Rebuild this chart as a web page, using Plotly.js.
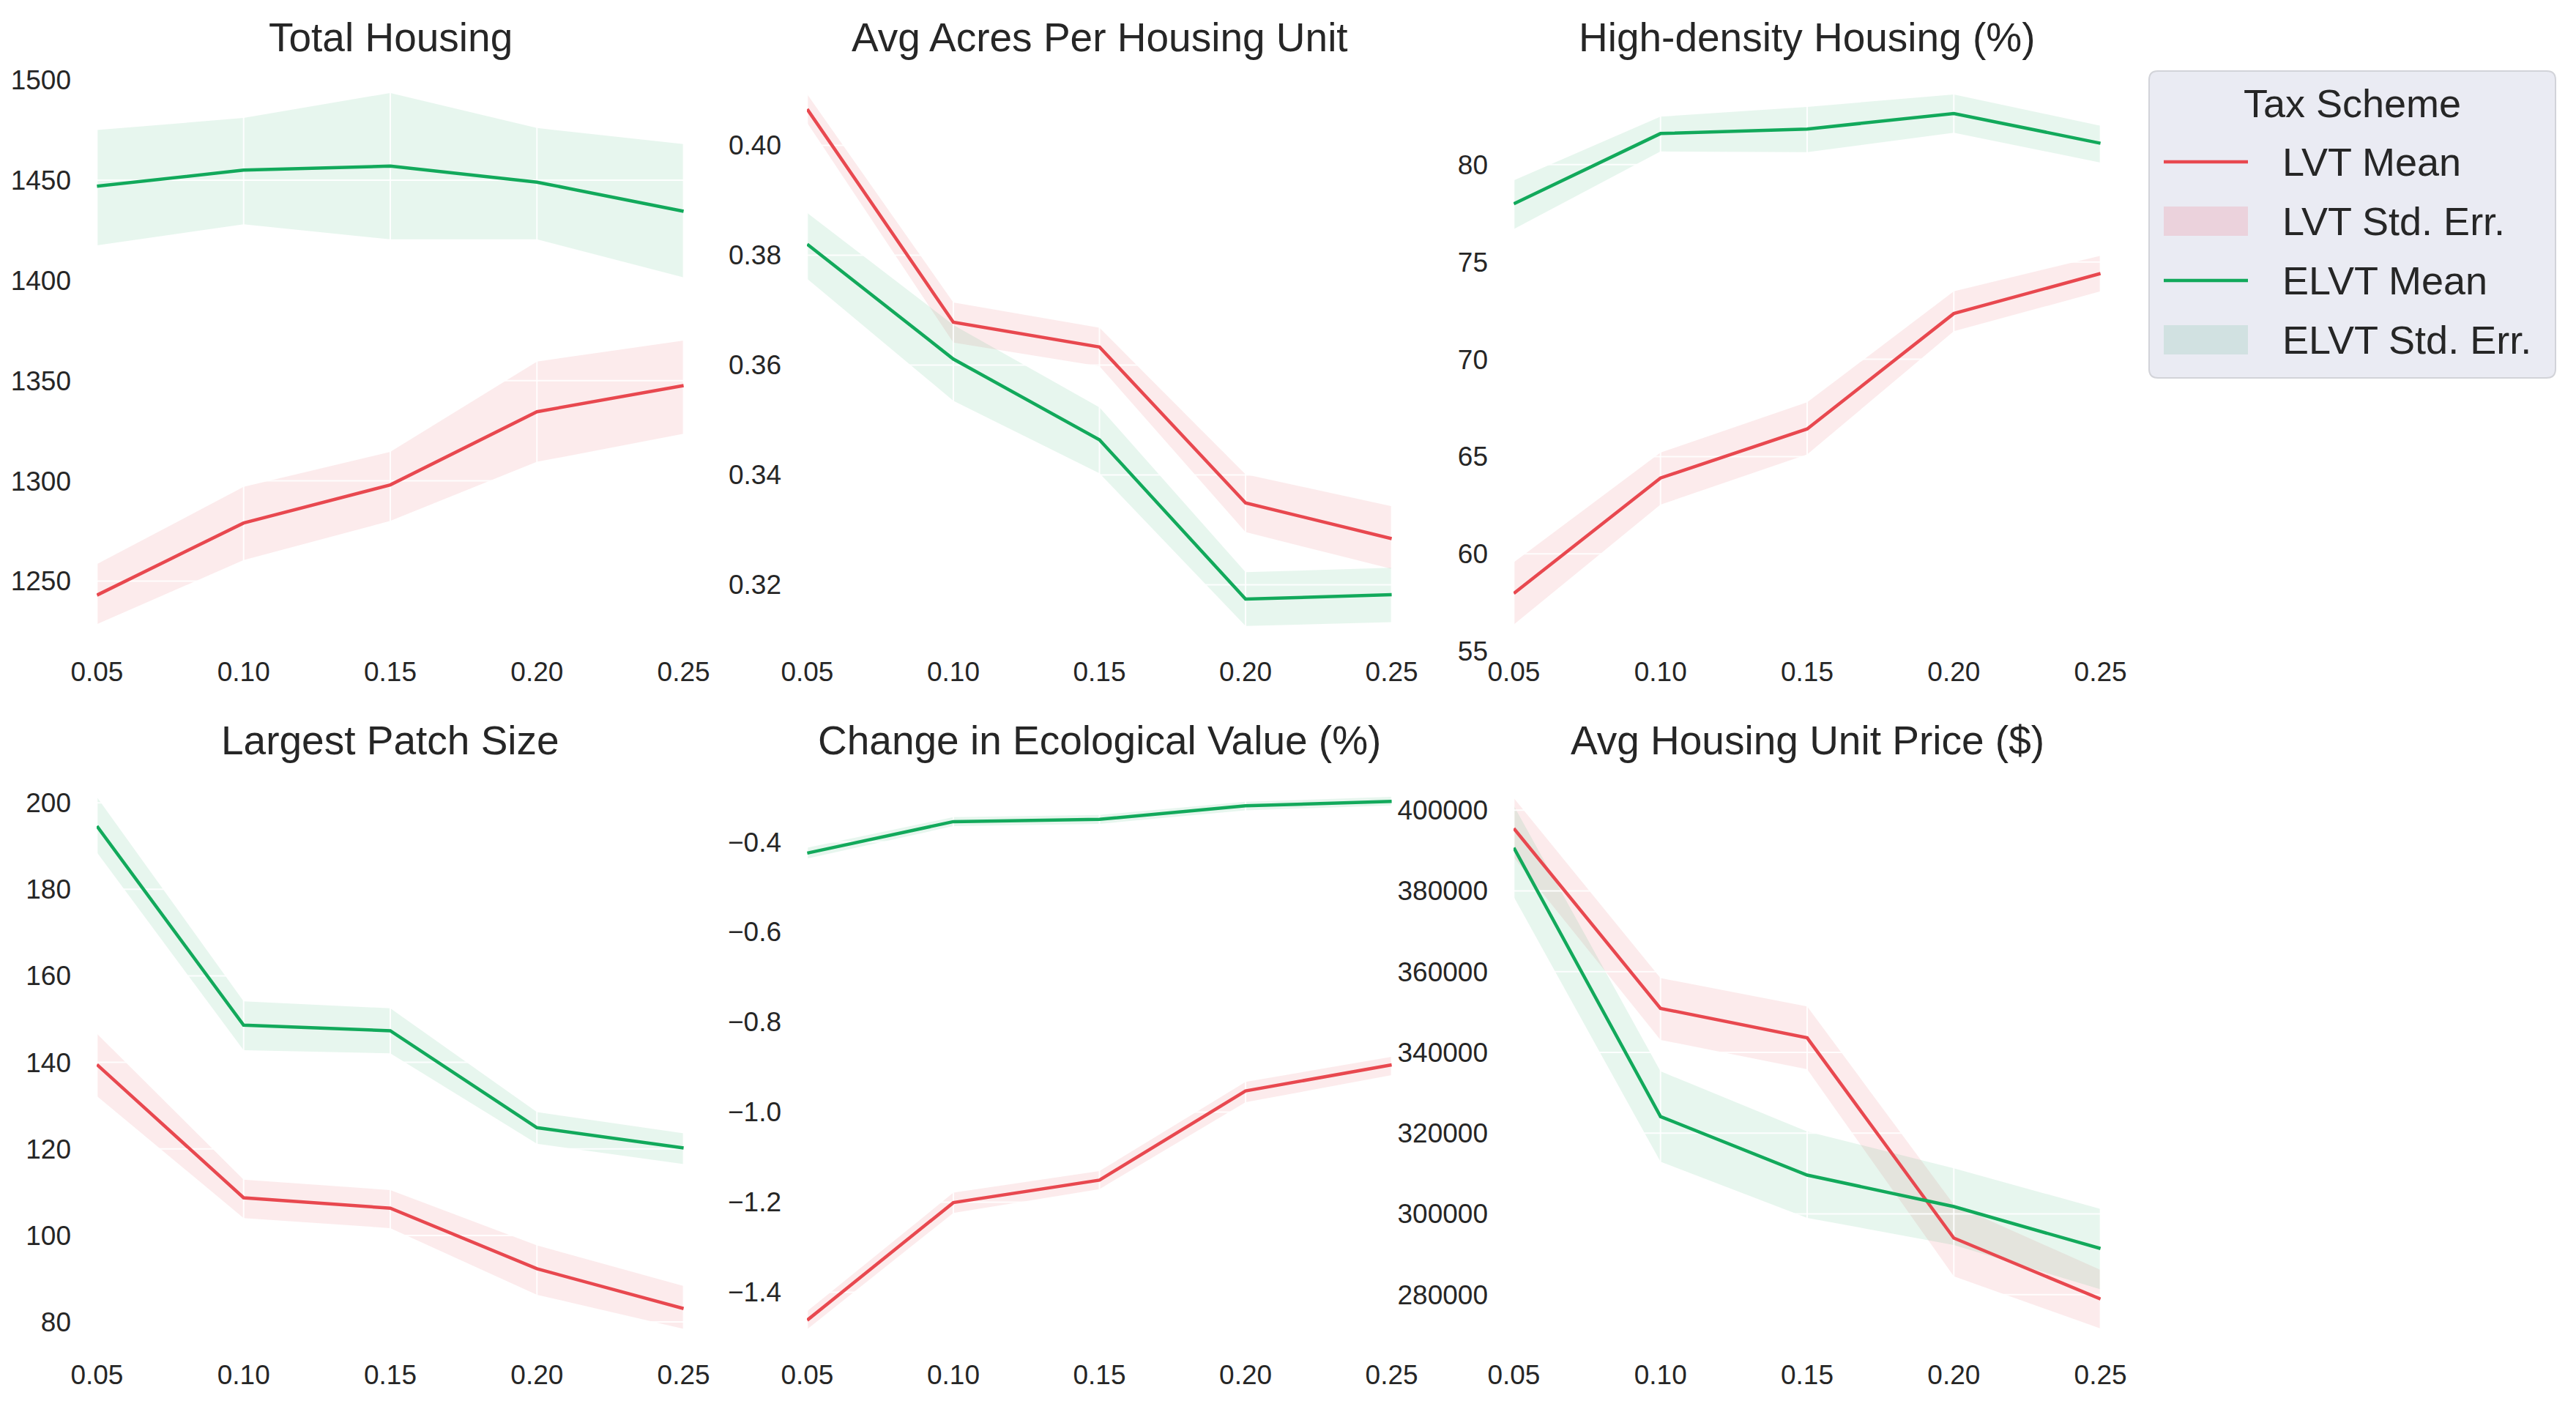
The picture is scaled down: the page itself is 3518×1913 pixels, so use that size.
<!DOCTYPE html>
<html>
<head>
<meta charset="utf-8">
<script src="https://cdn.plot.ly/plotly-3.0.1.min.js"></script>
<style>
html,body{margin:0;padding:0;background:#ffffff;}
#chart{width:3518px;height:1913px;}
</style>
</head>
<body>
<div id="chart"></div>
<script>
// ---------------- DATA ----------------
const xVals = [0.05, 0.10, 0.15, 0.20, 0.25];

const panelTitles = ["Total Housing", "Avg Acres Per Housing Unit", "High-density Housing (%)",
                     "Largest Patch Size", "Change in Ecological Value (%)", "Avg Housing Unit Price ($)"];

const legendTitle = "Tax Scheme";
const seriesNames = ["LVT Mean", "LVT Std. Err.", "ELVT Mean", "ELVT Std. Err."];

// Total Housing
const thLvtMean  = [1243, 1279, 1298, 1334.5, 1347.5];
const thLvtLo    = [1228.5, 1260.5, 1280, 1309.5, 1323.5];
const thLvtHi    = [1258.5, 1297, 1314.5, 1359.5, 1370];
const thElvtMean = [1447, 1455, 1457, 1449, 1434.5];
const thElvtLo   = [1417.5, 1428, 1420.5, 1420.5, 1401.5];
const thElvtHi   = [1475, 1481, 1493.5, 1476, 1468];
const thTicks    = [1250, 1300, 1350, 1400, 1450, 1500];

// Avg Acres Per Housing Unit
const aaLvtMean  = [0.4066, 0.3678, 0.3633, 0.3349, 0.3284];
const aaLvtLo    = [0.4041, 0.3641, 0.3598, 0.3296, 0.3229];
const aaLvtHi    = [0.4093, 0.3714, 0.3668, 0.3401, 0.3343];
const aaElvtMean = [0.3820, 0.3611, 0.3464, 0.3174, 0.3182];
const aaElvtLo   = [0.3757, 0.3535, 0.3403, 0.3125, 0.3132];
const aaElvtHi   = [0.3877, 0.3673, 0.3523, 0.3223, 0.3231];
const aaTicks    = [0.32, 0.34, 0.36, 0.38, 0.40];

// High-density Housing (%)
const hdLvtMean  = [57.97, 63.90, 66.42, 72.35, 74.41];
const hdLvtLo    = [56.37, 62.53, 65.11, 71.44, 73.49];
const hdLvtHi    = [59.57, 65.21, 67.79, 73.49, 75.32];
const hdElvtMean = [77.99, 81.60, 81.83, 82.63, 81.10];
const hdElvtLo   = [76.69, 80.68, 80.64, 81.64, 80.11];
const hdElvtHi   = [79.20, 82.47, 82.97, 83.61, 82.00];
const hdTicks    = [55, 60, 65, 70, 75, 80];

// Largest Patch Size
const lpLvtMean  = [139.5, 108.7, 106.3, 92.3, 83.1];
const lpLvtLo    = [132.2, 104.0, 101.7, 86.3, 78.4];
const lpLvtHi    = [146.6, 112.9, 110.5, 97.7, 88.3];
const lpElvtMean = [194.6, 148.6, 147.3, 124.9, 120.2];
const lpElvtLo   = [188.5, 142.8, 142.1, 121.2, 116.5];
const lpElvtHi   = [201.3, 154.1, 152.5, 128.5, 123.6];
const lpTicks    = [80, 100, 120, 140, 160, 180, 200];

// Change in Ecological Value (%)
const evLvtMean  = [-1.462, -1.201, -1.151, -0.953, -0.895];
const evLvtLo    = [-1.482, -1.224, -1.171, -0.978, -0.918];
const evLvtHi    = [-1.442, -1.179, -1.131, -0.933, -0.877];
const evElvtMean = [-0.425, -0.355, -0.350, -0.320, -0.310];
const evElvtLo   = [-0.437, -0.365, -0.360, -0.330, -0.319];
const evElvtHi   = [-0.413, -0.345, -0.340, -0.311, -0.300];
const evTicks    = [-1.4, -1.2, -1.0, -0.8, -0.6, -0.4];

// Avg Housing Unit Price ($)
const hpLvtMean  = [395500, 350900, 343600, 294000, 278900];
const hpLvtLo    = [388300, 343100, 335800, 284500, 271600];
const hpLvtHi    = [403000, 358400, 351400, 302300, 286100];
const hpElvtMean = [390700, 324100, 309600, 301800, 291400];
const hpElvtLo   = [378500, 312900, 299000, 292300, 281300];
const hpElvtHi   = [401100, 335300, 320400, 311300, 301200];
const hpTicks    = [280000, 300000, 320000, 340000, 360000, 380000, 400000];

// ---------------- STYLE ----------------
const W = 3518, H = 1913;
const RED = '#e8484f', GREEN = '#12a95b';
const RED_FILL = 'rgba(232,72,79,0.11)', GREEN_FILL = 'rgba(18,169,91,0.10)';
const RED_PATCH = 'rgba(240,110,130,0.20)', GREEN_PATCH = 'rgba(60,170,120,0.14)';
const FONT = 'Liberation Sans, Arial, sans-serif';
const TXT = '#262626';

const colsPx = [[132, 934], [1102, 1901], [2067, 2869]];
const rowsPx = [[92, 890], [1053, 1850]];

const panels = [
  {mean: [thLvtMean, thElvtMean], lo: [thLvtLo, thElvtLo], hi: [thLvtHi, thElvtHi], ticks: thTicks, range: [1214.75, 1506.25], fmt: 'd'},
  {mean: [aaLvtMean, aaElvtMean], lo: [aaLvtLo, aaElvtLo], hi: [aaLvtHi, aaElvtHi], ticks: aaTicks, range: [0.3078, 0.4142], fmt: '.2f'},
  {mean: [hdLvtMean, hdElvtMean], lo: [hdLvtLo, hdElvtLo], hi: [hdLvtHi, hdElvtHi], ticks: hdTicks, range: [54.97, 85.0], fmt: 'd'},
  {mean: [lpLvtMean, lpElvtMean], lo: [lpLvtLo, lpElvtLo], hi: [lpLvtHi, lpElvtHi], ticks: lpTicks, range: [72.4, 207.3], fmt: 'd'},
  {mean: [evLvtMean, evElvtMean], lo: [evLvtLo, evElvtLo], hi: [evLvtHi, evElvtHi], ticks: evTicks, range: [-1.539, -0.243], fmt: '.1f'},
  {mean: [hpLvtMean, hpElvtMean], lo: [hpLvtLo, hpElvtLo], hi: [hpLvtHi, hpElvtHi], ticks: hpTicks, range: [265063, 409663], fmt: 'd'}
];

const px = v => v / W;            // x pixel -> paper
const py = v => 1 - v / H;        // y pixel (from top) -> paper

const traces = [];
const layout = {
  width: W, height: H,
  margin: {l: 0, r: 0, t: 0, b: 0},
  paper_bgcolor: '#ffffff',
  plot_bgcolor: '#ffffff',
  font: {family: FONT, color: TXT},
  showlegend: false,
  annotations: [],
  shapes: []
};

panels.forEach((p, i) => {
  const col = i % 3, row = Math.floor(i / 3);
  const sfx = i === 0 ? '' : String(i + 1);
  const xa = 'x' + sfx, ya = 'y' + sfx;
  const xr = [0.0499, 0.2501];

  const fills = [RED_FILL, GREEN_FILL];
  const lines = [RED, GREEN];
  // std. err. bands
  for (let s = 0; s < 2; s++) {
    traces.push({
      type: 'scatter', mode: 'lines', xaxis: xa, yaxis: ya,
      x: xVals.concat(xVals.slice().reverse()),
      y: p.hi[s].concat(p.lo[s].slice().reverse()),
      fill: 'toself', fillcolor: fills[s], line: {width: 0, color: fills[s]},
      name: seriesNames[s * 2 + 1], hoverinfo: 'skip'
    });
  }
  // faint white grid drawn over the bands (from tick arrays)
  const gx = [], gy = [];
  xVals.forEach(t => { gx.push(t, t, null); gy.push(p.range[0], p.range[1], null); });
  p.ticks.forEach(t => { gx.push(xr[0], xr[1], null); gy.push(t, t, null); });
  traces.push({type: 'scatter', mode: 'lines', xaxis: xa, yaxis: ya, x: gx, y: gy,
    line: {color: 'rgba(255,255,255,0.9)', width: 2}, hoverinfo: 'skip', connectgaps: false});
  // means
  for (let s = 0; s < 2; s++) {
    traces.push({
      type: 'scatter', mode: 'lines', xaxis: xa, yaxis: ya,
      x: xVals, y: p.mean[s],
      line: {color: lines[s], width: 4.5},
      name: seriesNames[s * 2]
    });
  }

  layout['xaxis' + sfx] = {
    domain: [px(colsPx[col][0]), px(colsPx[col][1])], range: xr, anchor: ya,
    tickvals: xVals, tickformat: '.2f',
    showgrid: false, zeroline: false, showline: false, ticks: '',
    tickfont: {family: FONT, size: 37, color: TXT}, ticklabelstandoff: 2, fixedrange: true
  };
  layout['yaxis' + sfx] = {
    domain: [py(rowsPx[row][1]), py(rowsPx[row][0])], range: p.range, anchor: xa,
    tickvals: p.ticks, tickformat: p.fmt,
    showgrid: false, zeroline: false, showline: false, ticks: '',
    tickfont: {family: FONT, size: 37, color: TXT}, ticklabelstandoff: 34, fixedrange: true
  };
  layout.annotations.push({
    text: panelTitles[i], xref: 'paper', yref: 'paper',
    x: px((colsPx[col][0] + colsPx[col][1]) / 2),
    y: py(row === 0 ? 51 : 1011),
    xanchor: 'center', yanchor: 'middle', showarrow: false,
    font: {family: FONT, size: 55, color: TXT}
  });
});

// ---------------- LEGEND (drawn as layout shapes + text) ----------------
const LB = {l: 2935, r: 3490, t: 97, b: 516, rad: 12};
const rx = LB.rad / W, ry = LB.rad / H;
const L = px(LB.l), R = px(LB.r), T = py(LB.t), B = py(LB.b);
layout.shapes.push({
  type: 'path', xref: 'paper', yref: 'paper',
  path: `M ${L + rx},${T} L ${R - rx},${T} Q ${R},${T} ${R},${T - ry} L ${R},${B + ry} Q ${R},${B} ${R - rx},${B} ` +
        `L ${L + rx},${B} Q ${L},${B} ${L},${B + ry} L ${L},${T - ry} Q ${L},${T} ${L + rx},${T} Z`,
  fillcolor: '#eaebf3', line: {color: '#d2d3d9', width: 2}, layer: 'above'
});
layout.annotations.push({
  text: legendTitle, xref: 'paper', yref: 'paper', x: px((LB.l + LB.r) / 2), y: py(141),
  xanchor: 'center', yanchor: 'middle', showarrow: false, font: {family: FONT, size: 54, color: TXT}
});
const legendRowsPx = [221, 302, 383, 464];
const legendKinds = [
  {kind: 'line', color: RED}, {kind: 'patch', color: RED_PATCH},
  {kind: 'line', color: GREEN}, {kind: 'patch', color: GREEN_PATCH}
];
legendKinds.forEach((k, j) => {
  const yc = legendRowsPx[j];
  if (k.kind === 'line') {
    layout.shapes.push({type: 'line', xref: 'paper', yref: 'paper',
      x0: px(2955), x1: px(3070), y0: py(yc), y1: py(yc),
      line: {color: k.color, width: 4.5}, layer: 'above'});
  } else {
    layout.shapes.push({type: 'rect', xref: 'paper', yref: 'paper',
      x0: px(2955), x1: px(3070), y0: py(yc + 20), y1: py(yc - 20),
      fillcolor: k.color, line: {width: 0}, layer: 'above'});
  }
  layout.annotations.push({
    text: seriesNames[j], xref: 'paper', yref: 'paper', x: px(3115), y: py(yc),
    xanchor: 'left', yanchor: 'middle', showarrow: false, font: {family: FONT, size: 54, color: TXT}
  });
});

Plotly.newPlot('chart', traces, layout, {displayModeBar: false, staticPlot: true});
</script>
</body>
</html>
